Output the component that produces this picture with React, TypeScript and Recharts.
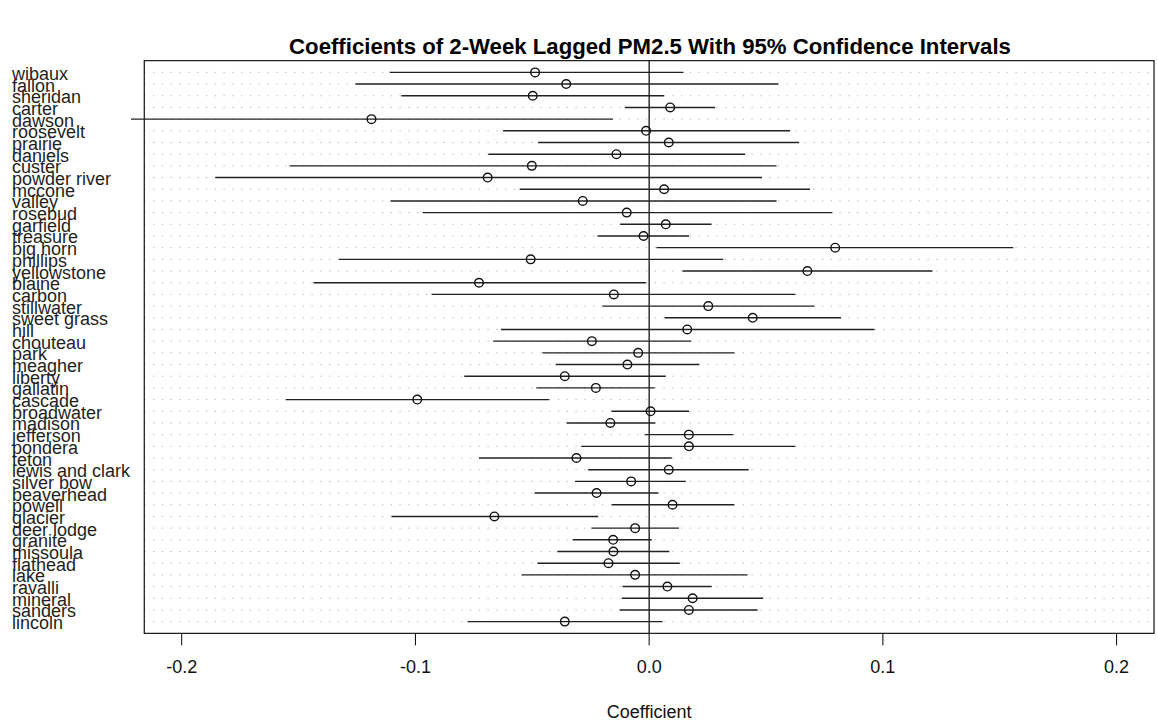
import { ScatterChart, Scatter, XAxis, YAxis, CartesianGrid, ReferenceLine, ReferenceArea, Label } from 'recharts';

// county order top to bottom, with point estimate and 95% CI bounds
const counties = [
  'wibaux', 'fallon', 'sheridan', 'carter', 'dawson', 'roosevelt', 'prairie', 'daniels',
  'custer', 'powder river', 'mccone', 'valley', 'rosebud', 'garfield', 'treasure', 'big horn',
  'phillips', 'yellowstone', 'blaine', 'carbon', 'stillwater', 'sweet grass', 'hill', 'chouteau',
  'park', 'meagher', 'liberty', 'gallatin', 'cascade', 'broadwater', 'madison', 'jefferson',
  'pondera', 'teton', 'lewis and clark', 'silver bow', 'beaverhead', 'powell', 'glacier', 'deer lodge',
  'granite', 'missoula', 'flathead', 'lake', 'ravalli', 'mineral', 'sanders', 'lincoln',
];

const estimates = [
  -0.0488, -0.0355, -0.0498, 0.009, -0.1188, -0.0013, 0.0084, -0.014,
  -0.0502, -0.0691, 0.0064, -0.0284, -0.0096, 0.0071, -0.0024, 0.0796,
  -0.0507, 0.0677, -0.0728, -0.0151, 0.0253, 0.0443, 0.0163, -0.0245,
  -0.0047, -0.0093, -0.0361, -0.0228, -0.0992, 0.0006, -0.0166, 0.017,
  0.017, -0.0311, 0.0084, -0.0077, -0.0225, 0.01, -0.0662, -0.006,
  -0.0154, -0.0153, -0.0174, -0.006, 0.0078, 0.0186, 0.017, -0.0361,
];

const lower = [
  -0.111, -0.1257, -0.106, -0.0104, -0.2217, -0.0625, -0.0475, -0.0688,
  -0.1538, -0.1856, -0.0554, -0.1106, -0.0969, -0.0124, -0.0221, 0.0031,
  -0.1327, 0.0143, -0.1436, -0.0931, -0.02, 0.0066, -0.0634, -0.0667,
  -0.0457, -0.04, -0.0791, -0.0483, -0.1554, -0.0161, -0.0353, -0.0019,
  -0.0291, -0.0728, -0.0261, -0.0317, -0.049, -0.016, -0.1102, -0.0247,
  -0.0327, -0.0393, -0.0478, -0.0546, -0.0114, -0.0117, -0.0126, -0.0777,
];

const upper = [
  0.0147, 0.0552, 0.0064, 0.0282, -0.0155, 0.0603, 0.0642, 0.0411,
  0.0545, 0.0483, 0.0688, 0.0545, 0.0784, 0.0267, 0.0171, 0.1558,
  0.0317, 0.1212, -0.0014, 0.0625, 0.0707, 0.0821, 0.0964, 0.018,
  0.0365, 0.0214, 0.0071, 0.0024, -0.0428, 0.0171, 0.0026, 0.036,
  0.0625, 0.0097, 0.0426, 0.0157, 0.004, 0.0364, -0.0218, 0.0128,
  0.0011, 0.0086, 0.0131, 0.0421, 0.0268, 0.0488, 0.0464, 0.0057,
];

const xTicks = [-0.2, -0.1, 0, 0.1, 0.2];

const FONT = '"Liberation Sans", Arial, Helvetica, sans-serif';

const rows = counties.map((county, i) => ({
  county,
  row: i + 1,
  est: estimates[i],
  lo: lower[i],
  hi: upper[i],
}));

const rowTicks = rows.map((r) => r.row);

const CountyTick = ({ y, payload }: any) => (
  <text x={12} y={y} dy={7.5} textAnchor="start" fontSize={18} fontFamily={FONT} fill="#1f1f1f">
    {counties[payload.value - 1]}
  </text>
);

const OpenCircle = ({ cx, cy }: any) => (
  <circle cx={cx} cy={cy} r={4.3} fill="none" stroke="#111" strokeWidth={1.4} />
);

export default function App() {
  return (
    <div style={{ position: 'absolute', left: 0, top: 0, width: 1157, height: 721, background: '#fff', fontFamily: FONT }}>
      <div
        style={{
          position: 'absolute',
          left: 250,
          top: 36,
          width: 800,
          textAlign: 'center',
          fontSize: 22.2,
          lineHeight: '21.6px',
          fontWeight: 'bold',
          color: '#000',
        }}
      >
        Coefficients of 2-Week Lagged PM2.5 With 95% Confidence Intervals
      </div>
      <ScatterChart width={1157} height={721} margin={{ top: 60.7, right: 3, bottom: 0, left: 0 }}>
        <CartesianGrid vertical={false} stroke="#b0b0b0" strokeDasharray="1.2 7.6" />
        <XAxis
          type="number"
          dataKey="est"
          domain={[-0.216, 0.216]}
          ticks={xTicks}
          allowDataOverflow
          height={87.7}
          axisLine={false}
          tickSize={12}
          tickMargin={14.6}
          tickLine={{ stroke: '#000' }}
          tick={{ fontSize: 18, fill: '#111', fontFamily: FONT }}
          tickFormatter={(v: number) => v.toFixed(1)}
        >
          <Label value="Coefficient" position="insideBottom" offset={3.5} fontSize={18} fill="#111" fontFamily={FONT} />
        </XAxis>
        <YAxis
          type="number"
          dataKey="row"
          domain={[0, 49]}
          reversed
          ticks={rowTicks}
          interval={0}
          width={144.3}
          axisLine={false}
          tickLine={false}
          tick={<CountyTick />}
        />
        <ReferenceArea x1={-0.216} x2={0.216} y1={0} y2={49} fill="none" stroke="#222" strokeWidth={1.3} ifOverflow="visible" />
        <ReferenceLine x={0} stroke="#000" strokeWidth={1.2} />
        {rows.map((r) => (
          <ReferenceLine
            key={r.county}
            segment={[{ x: r.lo, y: r.row }, { x: r.hi, y: r.row }]}
            stroke="#222"
            strokeWidth={1.4}
            ifOverflow="visible"
          />
        ))}
        <Scatter data={rows} shape={<OpenCircle />} isAnimationActive={false} />
      </ScatterChart>
    </div>
  );
}
